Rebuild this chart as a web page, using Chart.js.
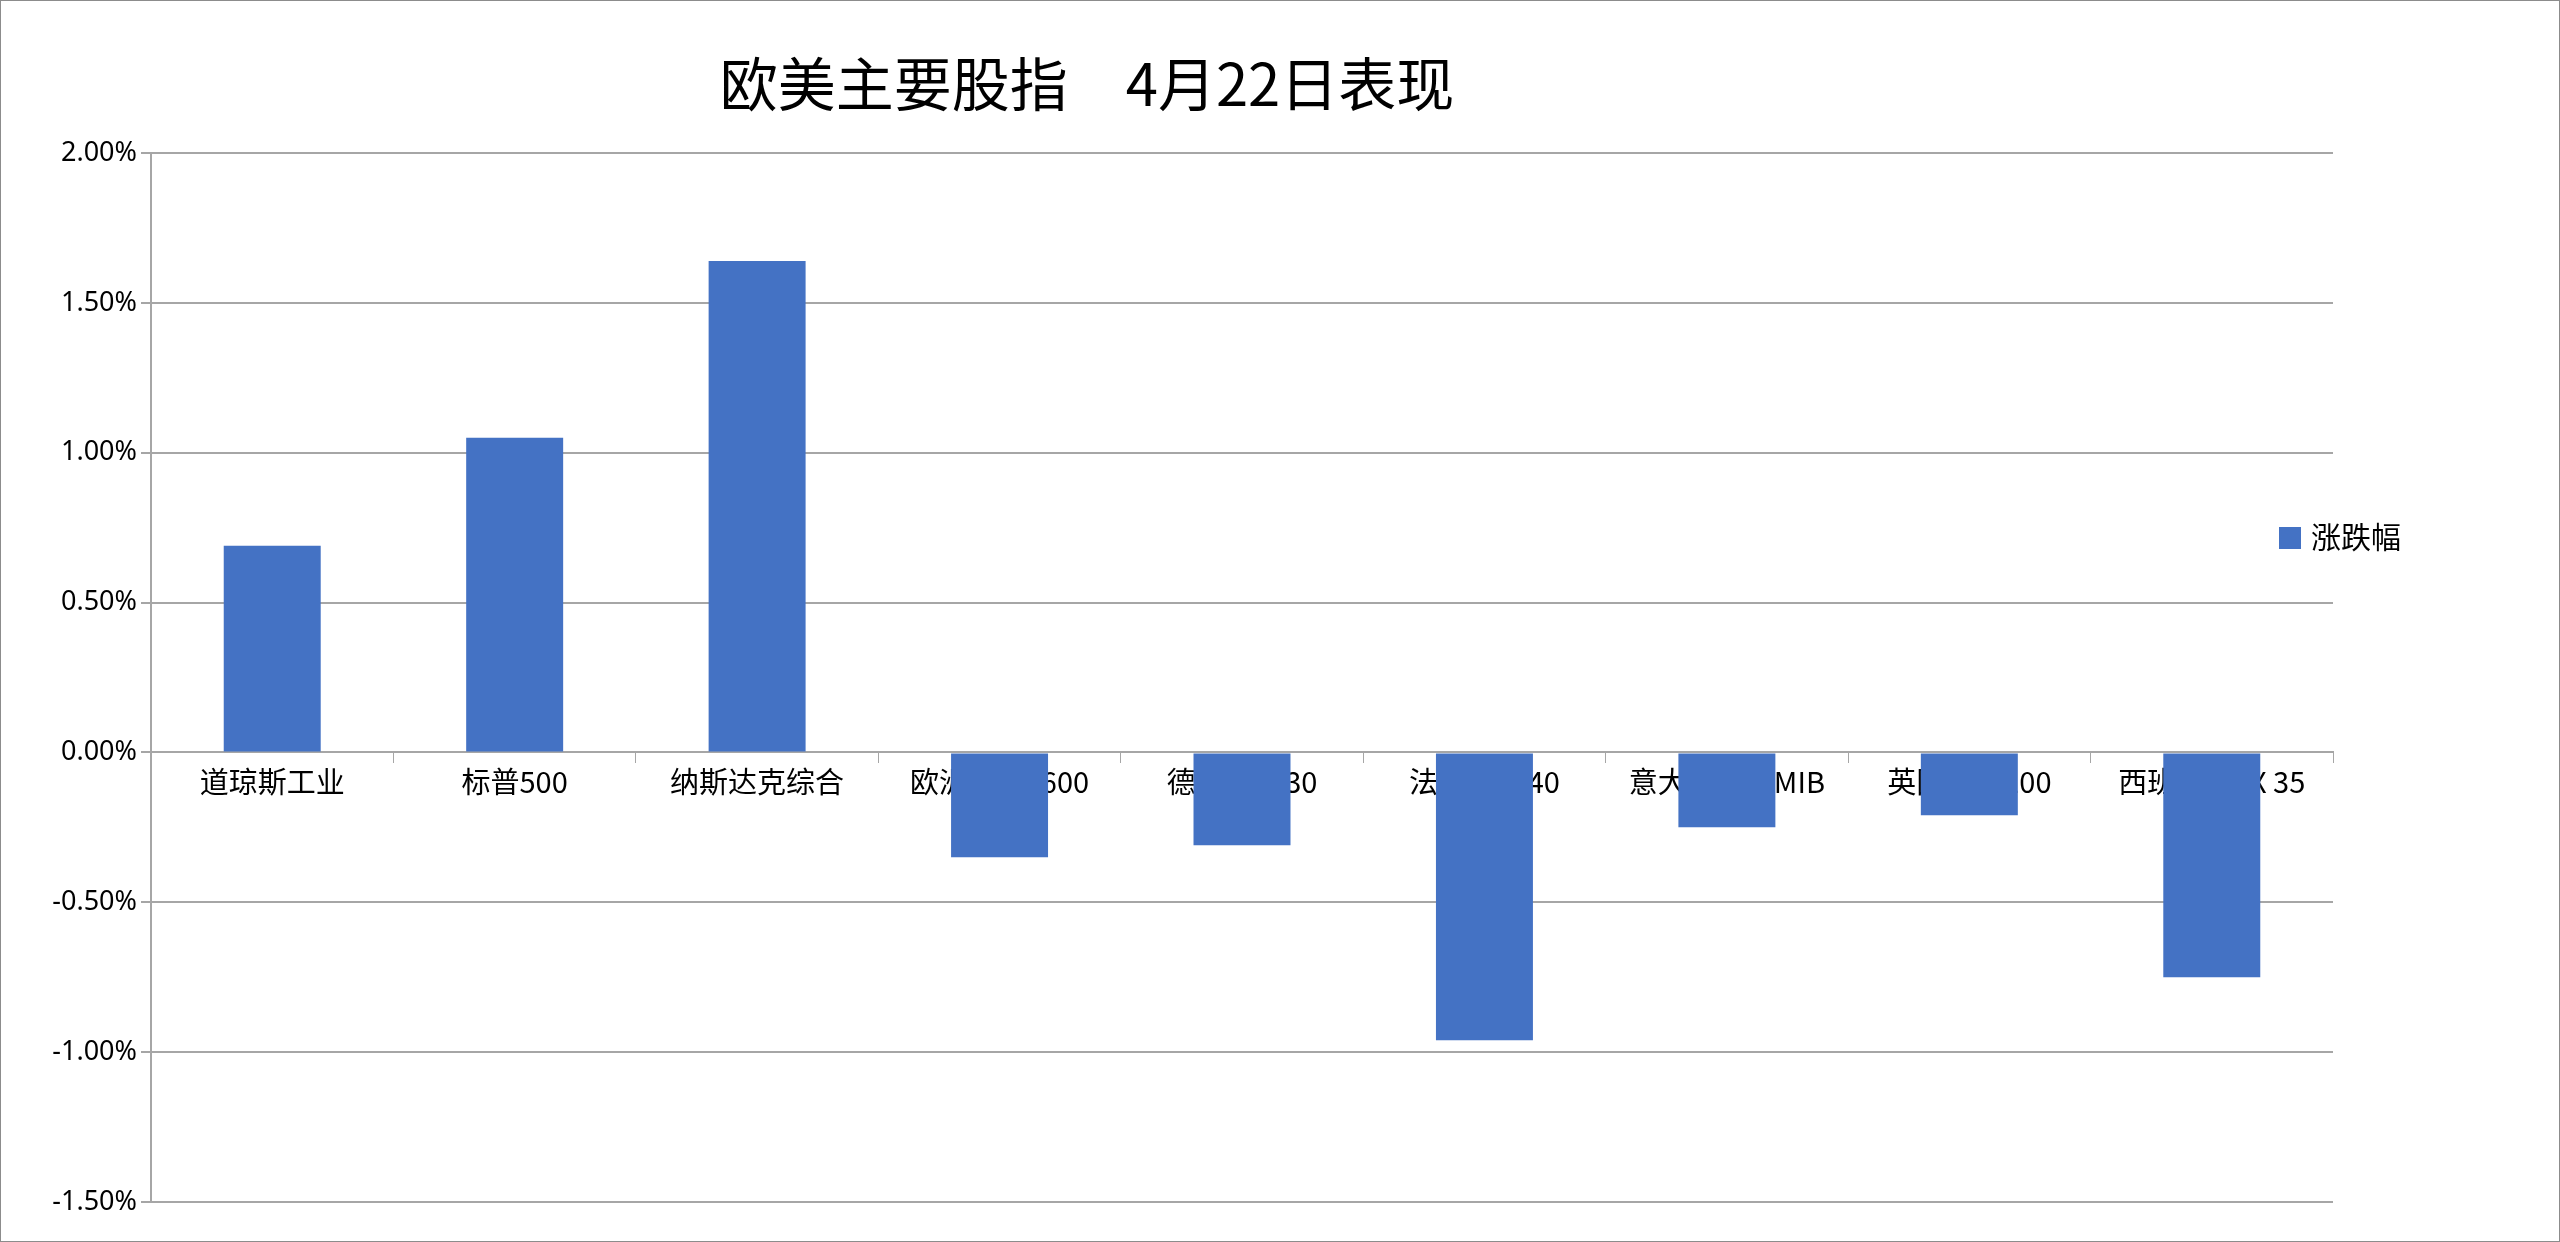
<!DOCTYPE html>
<html><head><meta charset="utf-8">
<script src="https://cdn.jsdelivr.net/npm/chart.js@4"></script>
<style>
html,body{margin:0;padding:0;background:#fff;}
#wrap{position:relative;width:2558px;height:1240px;border:1px solid #8c8c8c;}
#title{position:absolute;left:0;width:2172px;top:38px;text-align:center;font:58px "Noto Sans CJK SC";color:#000;}
#legend{position:absolute;left:2278px;top:512px;font:30px "Noto Sans CJK SC";color:#000;}
#legend span{display:inline-block;width:22px;height:22px;background:#4472c4;margin-right:10px;vertical-align:-1px;}
</style></head>
<body>
<div id="wrap">
<canvas id="c" width="2558" height="1240"></canvas>
<div id="title">欧美主要股指　4月22日表现</div>
<div id="legend"><span></span>涨跌幅</div>
</div>
<script>
var categories = ["道琼斯工业", "标普500", "纳斯达克综合", "欧洲Stoxx600", "德国DAX 30", "法国CAC 40", "意大利富时MIB", "英国富时100", "西班牙IBEX 35"];
var changes = [0.69, 1.05, 1.64, -0.35, -0.31, -0.96, -0.25, -0.21, -0.75];
var seriesName = "涨跌幅";

var ctx = document.getElementById("c").getContext("2d");
new Chart(ctx, {
  type: "bar",
  data: {
    labels: categories,
    datasets: [{
      label: seriesName,
      data: changes,
      backgroundColor: "#4472c4",
      barPercentage: 0.4,
      categoryPercentage: 1,
    }],
  },
  options: {
    responsive: false,
    animation: false,
    layout: { padding: { left: 10, right: 226, top: 152, bottom: 39 } },
    plugins: { legend: { display: false }, tooltip: { enabled: false } },
    scales: {
      x: {
        position: { y: 0 },
        grid: { drawOnChartArea: false, offset: true, tickLength: 10, color: "#a6a6a6" },
        border: { color: "#a6a6a6", width: 2 },
        ticks: { color: "#000", font: { family: "Noto Sans CJK SC", size: 29 }, padding: 2, maxRotation: 0, autoSkip: false },
      },
      y: {
        min: -1.5,
        max: 2,
        afterFit: function (s) { s.width = 140; },
        grid: { color: "#a6a6a6", lineWidth: 2, tickLength: 10 },
        border: { color: "#a6a6a6", width: 2 },
        ticks: {
          stepSize: 0.5,
          color: "#000",
          font: { family: "Noto Sans", size: 27 },
          padding: 4,
          callback: function (v) { return v.toFixed(2) + "%"; },
        },
      },
    },
  },
});
</script>
</body></html>
